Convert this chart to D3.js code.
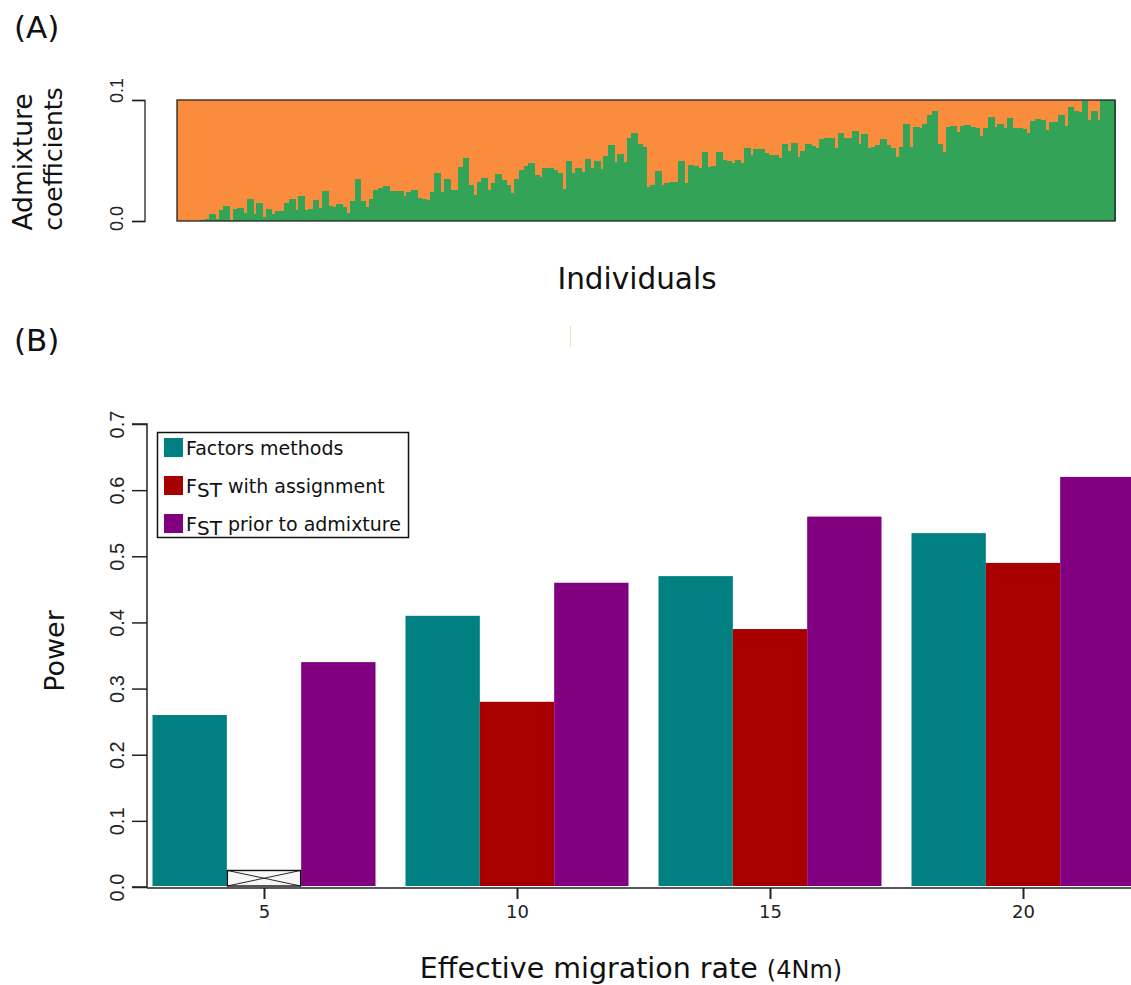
<!DOCTYPE html>
<html>
<head>
<meta charset="utf-8">
<script src="https://cdn.jsdelivr.net/npm/d3@7/dist/d3.min.js"></script>
<style>
  html, body { margin: 0; padding: 0; background: #fff; }
  svg { display: block; }
</style>
</head>
<body>
<svg id="fig" width="1131" height="985"></svg>
<script>
// ---- Panel A: admixture coefficient of each individual (green share, out of 0.1) ----
const admixture = [
  0, 0, 0, 0, 0, 0.001, 0.002, 0.0055, 0.002, 0.009,
  0.0127, 0.001, 0.010, 0.011, 0.007, 0.018, 0.006, 0.015, 0.0035, 0.010,
  0.006, 0.008, 0.008, 0.0146, 0.018, 0.009, 0.021, 0.009, 0.010, 0.0174,
  0.0105, 0.0248, 0.0127, 0.0118, 0.0138, 0.0118, 0.007, 0.0165, 0.0344, 0.0165,
  0.0118, 0.018, 0.0256, 0.027, 0.029, 0.0248, 0.0248, 0.0248, 0.021, 0.024,
  0.026, 0.019, 0.018, 0.0174, 0.0237, 0.040, 0.024, 0.0347, 0.026, 0.026,
  0.045, 0.052, 0.030, 0.0215, 0.032, 0.0358, 0.0256, 0.031, 0.0388, 0.0339,
  0.0298, 0.0229, 0.0347, 0.042, 0.0457, 0.048, 0.038, 0.0366, 0.0435, 0.0435,
  0.042, 0.040, 0.0265, 0.0496, 0.0394, 0.044, 0.0408, 0.0512, 0.044, 0.0496,
  0.043, 0.054, 0.063, 0.0485, 0.055, 0.0485, 0.0689, 0.073, 0.064, 0.0614,
  0.0284, 0.030, 0.0413, 0.0298, 0.031, 0.032, 0.032, 0.0496, 0.031, 0.046,
  0.0455, 0.044, 0.0568, 0.045, 0.0457, 0.0568, 0.0504, 0.0496, 0.0477, 0.0504,
  0.0477, 0.0606, 0.0545, 0.0595, 0.0595, 0.056, 0.0545, 0.0545, 0.0518, 0.0634,
  0.058, 0.0647, 0.053, 0.058, 0.064, 0.0623, 0.0606, 0.0678, 0.069, 0.069,
  0.060, 0.073, 0.069, 0.069, 0.0744, 0.0634, 0.0716, 0.0606, 0.0614, 0.0628,
  0.068, 0.0628, 0.060, 0.053, 0.0614, 0.080, 0.0614, 0.078, 0.0766, 0.080,
  0.088, 0.091, 0.064, 0.0573, 0.078, 0.0788, 0.0738, 0.0788, 0.0793, 0.078,
  0.077, 0.0705, 0.0766, 0.0862, 0.078, 0.080, 0.077, 0.0854, 0.0766, 0.077,
  0.076, 0.0724, 0.0826, 0.084, 0.0835, 0.0752, 0.0815, 0.082, 0.0876, 0.0788,
  0.0945, 0.091, 0.090, 0.099, 0.0835, 0.091, 0.0835, 0.100, 0.100, 0.100
];
const admixMax = 0.1;
const admixTicks = [0.0, 0.1];

// ---- Panel B: power by effective migration rate ----
const migrationRates = [5, 10, 15, 20];
const seriesNames = ["Factors methods", "FST with assignment", "FST prior to admixture"];
const factorsPower = [0.26, 0.41, 0.47, 0.535];
const fstAssignmentPower = [null, 0.28, 0.39, 0.49];   // not available at 4Nm = 5
const fstPriorPower = [0.34, 0.46, 0.56, 0.62];
const missingMarkerHeight = 0.025;
const powerTicks = [0.0, 0.1, 0.2, 0.3, 0.4, 0.5, 0.6, 0.7];

const colors = {
  orange: "#fa8c3e",
  green: "#33a457",
  teal: "#008080",
  red: "#a80000",
  purple: "#800080"
};
const seriesColors = [colors.teal, colors.red, colors.purple];

const svg = d3.select("#fig");
const sans = "'DejaVu Sans', Verdana, sans-serif";
const arial = "'Liberation Sans', Arial, sans-serif";

// ================= Panel A =================
const xA = d3.scaleBand().domain(d3.range(admixture.length)).range([177, 1115]).padding(0);
const yA = d3.scaleLinear().domain([0, admixMax]).range([221, 100]);

const gA = svg.append("g");
// orange remainder fills the whole frame, green admixture share drawn on top
gA.append("rect")
  .attr("x", xA(0)).attr("y", yA(admixMax))
  .attr("width", xA.step() * admixture.length).attr("height", yA(0) - yA(admixMax))
  .attr("fill", colors.orange);
gA.selectAll("rect.share").data(admixture).join("rect")
  .attr("class", "share")
  .attr("shape-rendering", "crispEdges")
  .attr("x", (d, i) => Math.floor(xA(i)))
  .attr("width", (d, i) => Math.ceil(xA(i) + xA.bandwidth()) - Math.floor(xA(i)) + 1)
  .attr("y", d => yA(d))
  .attr("height", d => yA(0) - yA(d))
  .attr("fill", colors.green);
// frame
gA.append("rect")
  .attr("x", 177).attr("y", yA(admixMax))
  .attr("width", 1115 - 177).attr("height", yA(0) - yA(admixMax))
  .attr("fill", "none").attr("stroke", "#222").attr("stroke-width", 1.3);

// y axis, panel A
const axA = svg.append("g").attr("transform", "translate(145,0)")
  .call(d3.axisLeft(yA).tickValues(admixTicks).tickSize(13).tickFormat(d3.format(".1f")));
axA.select(".domain").attr("stroke", "#222").attr("stroke-width", 1.3).attr("d", "M-13,100.5H0V221.5H-13");
axA.selectAll(".tick line").attr("stroke", "#222").attr("stroke-width", 1.3);
axA.selectAll(".tick text")
  .attr("font-family", arial).attr("font-size", 18).attr("fill", "#222")
  .attr("text-anchor", "middle")
  .attr("transform", d => `translate(-28,${d === 0 ? -3 : -10}) rotate(-90)`)
  .attr("x", 0).attr("dy", "0.35em");

svg.append("text")
  .attr("transform", "translate(32,162) rotate(-90)")
  .attr("text-anchor", "middle")
  .attr("font-family", sans).attr("font-size", 26.5).attr("fill", "#111")
  .text("Admixture");
svg.append("text")
  .attr("transform", "translate(62,159) rotate(-90)")
  .attr("text-anchor", "middle")
  .attr("font-family", sans).attr("font-size", 25).attr("fill", "#111")
  .text("coefficients");
svg.append("text")
  .attr("x", 637).attr("y", 289)
  .attr("text-anchor", "middle")
  .attr("font-family", sans).attr("font-size", 29.5).attr("fill", "#111")
  .text("Individuals");

// panel letters
svg.append("text").attr("x", 14).attr("y", 38)
  .attr("font-family", sans).attr("font-size", 31).attr("fill", "#111").text("(A)");
svg.append("text").attr("x", 14).attr("y", 351)
  .attr("font-family", sans).attr("font-size", 31).attr("fill", "#111").text("(B)");

// faint stray mark between panels
svg.append("line").attr("x1", 570.5).attr("x2", 570.5).attr("y1", 326).attr("y2", 347)
  .attr("stroke", "#f0dcb4").attr("stroke-width", 1);

// ================= Panel B =================
const xB = d3.scaleLinear().domain([5, 20]).range([264, 1023]);
const inner = d3.scaleBand().domain(d3.range(3)).range([-111.5, 111.5]).padding(0);
const yB = d3.scaleLinear().domain([0, 0.7]).range([887, 424]);

const seriesValues = [factorsPower, fstAssignmentPower, fstPriorPower];
const barData = [];
migrationRates.forEach((m, gi) => {
  seriesValues.forEach((vals, si) => {
    barData.push({ m, si, v: vals[gi] });
  });
});

const gB = svg.append("g");
gB.selectAll("rect.bar").data(barData.filter(d => d.v != null)).join("rect")
  .attr("class", "bar")
  .attr("x", d => xB(d.m) + inner(d.si))
  .attr("width", inner.bandwidth())
  .attr("y", d => yB(d.v))
  .attr("height", d => yB(0) - yB(d.v) - 1)
  .attr("fill", d => seriesColors[d.si]);

// crossed box for the missing value
barData.filter(d => d.v == null).forEach(d => {
  const x0 = xB(d.m) + inner(d.si), x1 = x0 + inner.bandwidth();
  const y0 = yB(missingMarkerHeight), y1 = yB(0) - 1;
  gB.append("rect").attr("x", x0 + 0.5).attr("y", y0).attr("width", x1 - x0 - 1).attr("height", y1 - y0)
    .attr("fill", "#f7f7f7").attr("stroke", "#111").attr("stroke-width", 1.4);
  gB.append("path").attr("d", `M${x0 + 0.5},${y0}L${x1 - 0.5},${y1}M${x0 + 0.5},${y1}L${x1 - 0.5},${y0}`)
    .attr("stroke", "#111").attr("stroke-width", 0.9).attr("fill", "none");
});

// y axis, panel B
const axB = svg.append("g").attr("transform", "translate(147,0)")
  .call(d3.axisLeft(yB).tickValues(powerTicks).tickSize(15).tickFormat(d3.format(".1f")));
axB.select(".domain").attr("stroke", "#222").attr("stroke-width", 1.5)
  .attr("d", `M-15,${yB(0.7)}H0V${yB(0)}H-15`);
axB.selectAll(".tick line").attr("stroke", "#222").attr("stroke-width", 1.5);
axB.selectAll(".tick text")
  .attr("font-family", arial).attr("font-size", 20).attr("fill", "#222")
  .attr("text-anchor", "middle")
  .attr("transform", "translate(-30,0) rotate(-90)")
  .attr("x", 0).attr("dy", "0.35em");

// x axis, panel B
const axX = svg.append("g").attr("transform", `translate(0,${yB(0) + 1})`)
  .call(d3.axisBottom(xB).tickValues(migrationRates).tickSize(11).tickFormat(d3.format("d")));
axX.select(".domain").attr("stroke", "#222").attr("stroke-width", 1.5)
  .attr("d", "M147,0H1131");
axX.selectAll(".tick line").attr("stroke", "#222").attr("stroke-width", 2);
axX.selectAll(".tick text")
  .attr("font-family", sans).attr("font-size", 18).attr("fill", "#222")
  .attr("y", 17);

svg.append("text")
  .attr("x", 631).attr("y", 978)
  .attr("text-anchor", "middle")
  .attr("font-family", sans).attr("font-size", 28.5).attr("fill", "#111")
  .call(t => {
    t.append("tspan").text("Effective migration rate ");
    t.append("tspan").attr("font-size", 24).text("(4Nm)");
  });

svg.append("text")
  .attr("transform", "translate(64,651) rotate(-90)")
  .attr("text-anchor", "middle")
  .attr("font-family", sans).attr("font-size", 27).attr("fill", "#111")
  .text("Power");

// legend
const legend = svg.append("g");
legend.append("rect")
  .attr("x", 157.5).attr("y", 432.5).attr("width", 251).attr("height", 105)
  .attr("fill", "#fff").attr("stroke", "#111").attr("stroke-width", 1.5);
const legendRowsY = [438, 476, 514];
seriesNames.forEach((name, i) => {
  legend.append("rect")
    .attr("x", 164).attr("y", legendRowsY[i]).attr("width", 19).attr("height", 19)
    .attr("fill", seriesColors[i]);
  const t = legend.append("text")
    .attr("x", 186).attr("y", legendRowsY[i] + 17)
    .attr("font-family", sans).attr("font-size", 19).attr("fill", "#111");
  if (name.startsWith("FST")) {
    t.append("tspan").text("F");
    t.append("tspan").attr("dy", 4).attr("font-size", 20).text("ST");
    t.append("tspan").attr("dy", -4).text(name.slice(3));
  } else {
    t.text(name);
  }
});
</script>
</body>
</html>
